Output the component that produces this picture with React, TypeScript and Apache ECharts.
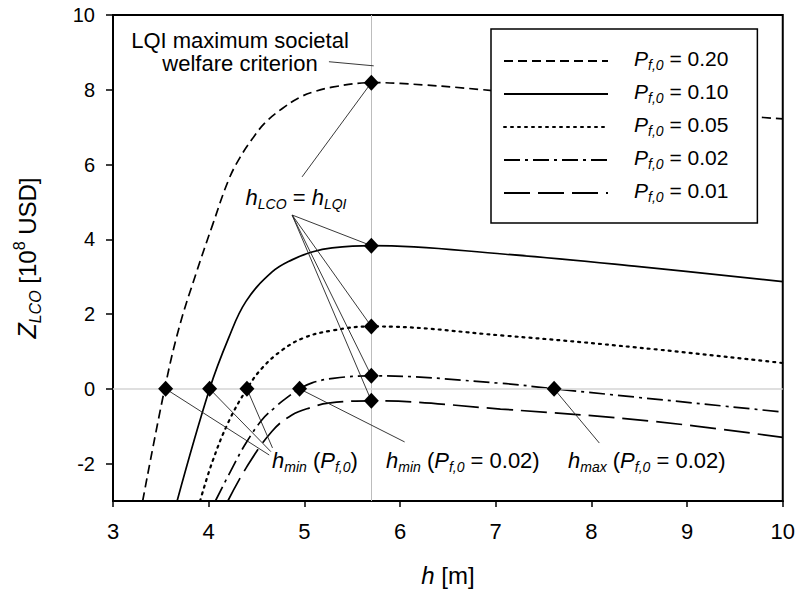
import React, { useEffect, useRef } from 'react';
import * as echarts from 'echarts';

const FONT = '"Liberation Sans", Arial, sans-serif';

// Legend names (P_f,0 values)
const seriesNames = ['0.20', '0.10', '0.05', '0.02', '0.01'];

// Curves Z_LCO(h) [10^8 USD]
const h020 = [3.31, 3.54, 3.69, 3.87, 4.04, 4.21, 4.33, 4.46, 4.59, 4.77, 4.94, 5.08, 5.29, 5.7, 6.0, 6.87, 9.7, 10];
const z020 = [-3, 0, 1.63, 3.1, 4.38, 5.6, 6.2, 6.7, 7.12, 7.5, 7.78, 7.93, 8.07, 8.19, 8.17, 8.0, 7.28, 7.22];

const h010 = [3.67, 4.01, 4.21, 4.39, 4.66, 4.87, 5.08, 5.29, 5.7, 7.1, 8.5, 10];
const z010 = [-3, 0, 1.37, 2.34, 3.12, 3.45, 3.66, 3.77, 3.83, 3.6, 3.27, 2.87];

const h005 = [3.91, 4.04, 4.21, 4.4, 4.56, 4.77, 4.99, 5.29, 5.7, 7.1, 8.5, 10];
const z005 = [-3, -1.94, -0.87, 0, 0.56, 1.04, 1.36, 1.56, 1.67, 1.42, 1.1, 0.69];

const h002 = [4.07, 4.25, 4.39, 4.56, 4.7, 4.8, 4.95, 5.08, 5.3, 5.7, 7.05, 7.61, 10];
const z002 = [-3, -2.1, -1.45, -0.82, -0.48, -0.27, 0, 0.16, 0.28, 0.35, 0.15, 0, -0.62];

const h001 = [4.2, 4.39, 4.66, 4.87, 5.08, 5.25, 5.7, 7.05, 8.65, 10];
const z001 = [-3, -2.12, -1.14, -0.7, -0.49, -0.38, -0.32, -0.54, -0.87, -1.3];

const curveH = [h020, h010, h005, h002, h001];
const curveZ = [z020, z010, z005, z002, z001];

// Marked points
const hLQI = 5.7;
const zAtLQI = [8.19, 3.83, 1.67, 0.35, -0.32];
const hMin = [3.55, 4.01, 4.4, 4.95];
const hMax002 = 7.61;

// Tick values
const xTicks = [3, 4, 5, 6, 7, 8, 9, 10];
const yTicks = [-2, 0, 2, 4, 6, 8, 10];

// Annotation leader anchors (data coordinates)
const lqiLeaderStart = [5.257, 8.75];
const lqiLeaderEnd = [5.725, 8.64];
const hLcoTopAnchor = [4.976, 5.67];
const hLcoBottomAnchor = [4.872, 4.65];
const hMinAnchors = [[4.633, -1.77], [4.65, -1.68], [4.667, -1.58]];
const hMin002Anchor = [6.048, -1.42];
const hMax002Anchor = [8.083, -1.45];

const dashArrays: any[] = [[9, 5], 'solid', [2, 5], [16, 5, 3, 5], [26, 8]];

export default function App() {
  const ref = useRef<HTMLDivElement>(null);

  useEffect(() => {
    if (!ref.current) return;
    const chart = echarts.init(ref.current, null, { renderer: 'svg' });

    const lineSeries = seriesNames.map((name, k) => ({
      name,
      type: 'line',
      data: curveH[k].map((h, i) => [h, curveZ[k][i]]),
      symbol: 'none',
      smooth: 0.4,
      clip: true,
      z: 3,
      lineStyle: {
        color: '#000',
        width: k === 2 ? 2.2 : 1.7,
        type: dashArrays[k],
        cap: k === 2 ? 'round' : 'butt',
      },
      itemStyle: { color: '#000' },
    }));

    const diamonds = [
      ...zAtLQI.map((z) => [hLQI, z]),
      ...hMin.map((h) => [h, 0]),
      [hMax002, 0],
    ];

    const leaders: any[] = [
      [{ coord: lqiLeaderStart }, { coord: lqiLeaderEnd }],
      [{ coord: hLcoTopAnchor }, { coord: [hLQI, zAtLQI[0]] }],
      ...zAtLQI.slice(1).map((z) => [{ coord: hLcoBottomAnchor }, { coord: [hLQI, z] }]),
      ...hMinAnchors.map((a, i) => [{ coord: a }, { coord: [hMin[i], 0] }]),
      [{ coord: hMin002Anchor }, { coord: [hMin[3], 0] }],
      [{ coord: hMax002Anchor }, { coord: [hMax002, 0] }],
    ];

    const mainSize = 22;
    const subSize = 14;
    const richLabel = {
      h: { font: `italic ${mainSize}px ${FONT}`, fill: '#000', lineHeight: 28 },
      s: { font: `italic ${subSize}px ${FONT}`, fill: '#000', verticalAlign: 'bottom', lineHeight: 28 },
      n: { font: `${mainSize}px ${FONT}`, fill: '#000', lineHeight: 28 },
    };

    chart.setOption({
      animation: false,
      backgroundColor: '#fff',
      grid: {
        left: 113,
        right: 12,
        top: 15,
        bottom: 92,
        show: true,
        borderColor: '#000',
        borderWidth: 2,
        backgroundColor: 'transparent',
      },
      xAxis: {
        type: 'value',
        min: 3,
        max: 10,
        interval: 1,
        name: '{i|h}{n| [m]}',
        nameLocation: 'middle',
        nameGap: 62,
        nameTextStyle: {
          color: '#000',
          fontFamily: FONT,
          fontSize: 24,
          rich: {
            i: { fontStyle: 'italic', fontSize: 24, fontFamily: FONT },
            n: { fontSize: 24, fontFamily: FONT },
          },
        },
        axisLine: { show: true, onZero: false, lineStyle: { color: '#000', width: 2 } },
        axisTick: { show: true, inside: false, length: 6, lineStyle: { color: '#000', width: 1.5 }, customValues: xTicks },
        axisLabel: { color: '#000', fontSize: 22, fontFamily: FONT, margin: 19, customValues: xTicks },
        splitLine: { show: false },
      },
      yAxis: {
        type: 'value',
        min: -3,
        max: 10,
        name: '{i|Z}{s|LCO}{n| [10}{u|8}{n| USD]}',
        nameLocation: 'middle',
        nameRotate: 90,
        nameGap: 70,
        nameTextStyle: {
          color: '#000',
          fontFamily: FONT,
          fontSize: 24,
          rich: {
            i: { fontStyle: 'italic', fontSize: 25, fontFamily: FONT, lineHeight: 32 },
            s: { fontStyle: 'italic', fontSize: 16, fontFamily: FONT, verticalAlign: 'bottom', lineHeight: 32 },
            n: { fontSize: 24, fontFamily: FONT, lineHeight: 32 },
            u: { fontSize: 16, fontFamily: FONT, verticalAlign: 'top', lineHeight: 32 },
          },
        },
        axisLine: { show: true, onZero: false, lineStyle: { color: '#000', width: 2 } },
        axisTick: { show: true, inside: false, length: 7, lineStyle: { color: '#000', width: 1.5 }, customValues: yTicks },
        axisLabel: { color: '#000', fontSize: 20, fontFamily: FONT, margin: 18, customValues: yTicks },
        splitLine: { show: false },
      },
      legend: {
        show: true,
        orient: 'vertical',
        left: 491,
        top: 29,
        padding: [19, 29, 19, 12],
        itemWidth: 104,
        itemHeight: 14,
        itemGap: 9,
        borderColor: '#000',
        borderWidth: 1.5,
        backgroundColor: '#fff',
        selectedMode: false,
        data: seriesNames,
        itemStyle: { opacity: 0 },
        formatter: (name: string) => `{p|P}{s|f,0}{t| = ${name}}`,
        textStyle: {
          color: '#000',
          fontFamily: FONT,
          fontSize: 21,
          padding: [0, 0, 5, 21],
          rich: {
            p: { fontStyle: 'italic', fontSize: 21, fontFamily: FONT, lineHeight: 27 },
            s: { fontStyle: 'italic', fontSize: 14, fontFamily: FONT, verticalAlign: 'bottom', lineHeight: 27 },
            t: { fontSize: 21, fontFamily: FONT, lineHeight: 27 },
          },
        },
      },
      series: [
        {
          name: 'ref',
          type: 'line',
          data: [],
          z: 1,
          silent: true,
          markLine: {
            silent: true,
            symbol: ['none', 'none'],
            label: { show: false },
            lineStyle: { type: 'solid', width: 1, color: '#cfcfcf' },
            data: [
              { xAxis: hLQI, lineStyle: { color: '#bdbdbd', type: 'solid', width: 1 } },
              { yAxis: 0, lineStyle: { color: '#d4d4d4', type: 'solid', width: 1.5 } },
            ],
          },
        },
        ...lineSeries,
        {
          name: 'points',
          type: 'scatter',
          data: diamonds,
          symbol: 'diamond',
          symbolSize: [15, 16],
          itemStyle: { color: '#000', opacity: 1 },
          z: 5,
          silent: true,
          markLine: {
            silent: true,
            symbol: ['none', 'none'],
            label: { show: false },
            lineStyle: { color: '#222', width: 0.9, type: 'solid', opacity: 1 },
            data: leaders,
          },
        },
      ],
      graphic: [
        {
          type: 'text',
          x: 240,
          y: 51.5,
          z: 10,
          style: {
            text: 'LQI maximum societal\nwelfare criterion',
            font: `22px ${FONT}`,
            fill: '#000',
            align: 'center',
            verticalAlign: 'middle',
            lineHeight: 23,
          },
        },
        {
          type: 'text',
          x: 296,
          y: 197,
          z: 10,
          style: {
            text: '{h|h}{s|LCO}{n| = }{h|h}{s|LQI}',
            rich: richLabel,
            font: `${mainSize}px ${FONT}`,
            fill: '#000',
            align: 'center',
            verticalAlign: 'middle',
          },
        },
        {
          type: 'text',
          x: 272,
          y: 460,
          z: 10,
          style: {
            text: '{h|h}{s|min}{n| (}{h|P}{s|f,0}{n|)}',
            rich: richLabel,
            font: `${mainSize}px ${FONT}`,
            fill: '#000',
            align: 'left',
            verticalAlign: 'middle',
          },
        },
        {
          type: 'text',
          x: 386,
          y: 460,
          z: 10,
          style: {
            text: '{h|h}{s|min}{n| (}{h|P}{s|f,0}{n| = 0.02)}',
            rich: richLabel,
            font: `${mainSize}px ${FONT}`,
            fill: '#000',
            align: 'left',
            verticalAlign: 'middle',
          },
        },
        {
          type: 'text',
          x: 568,
          y: 460,
          z: 10,
          style: {
            text: '{h|h}{s|max}{n| (}{h|P}{s|f,0}{n| = 0.02)}',
            rich: richLabel,
            font: `${mainSize}px ${FONT}`,
            fill: '#000',
            align: 'left',
            verticalAlign: 'middle',
          },
        },
      ],
    });

    return () => chart.dispose();
  }, []);

  return (
    <div
      ref={ref}
      style={{ position: 'fixed', left: 0, top: 0, width: 798, height: 593, background: '#fff' }}
    />
  );
}
